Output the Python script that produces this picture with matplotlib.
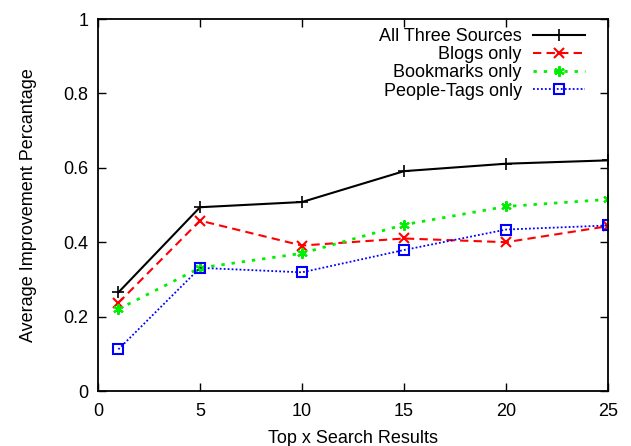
import matplotlib
matplotlib.use("Agg")
import matplotlib.pyplot as plt

plt.rcParams['font.family'] = ['Liberation Sans', 'DejaVu Sans']

x = [1, 5, 10, 15, 20, 25]
all_three = [0.265, 0.494, 0.508, 0.591, 0.611, 0.620]
blogs = [0.237, 0.458, 0.391, 0.410, 0.400, 0.443]
bookmarks = [0.220, 0.331, 0.370, 0.447, 0.496, 0.515]
people_tags = [0.112, 0.331, 0.319, 0.379, 0.434, 0.445]

labels = ["All Three Sources", "Blogs only", "Bookmarks only", "People-Tags only"]
xticks = [0, 5, 10, 15, 20, 25]
yticks = [0, 0.2, 0.4, 0.6, 0.8, 1]
ytick_labels = ["0", "0.2", "0.4", "0.6", "0.8", "1"]

FS = 13

fig = plt.figure(figsize=(6.31, 4.46), dpi=100)
ax = fig.add_axes([98/631, 55/446, 510/631, 372/446])

ax.plot(x, all_three, color='black', linestyle='-', linewidth=1.5, marker='+', markersize=8, markeredgewidth=1.2, label=labels[0])
ax.plot(x, blogs, color='red', linestyle=(0, (4, 2.5)), linewidth=1.5, marker='x', markersize=7, markeredgewidth=1.5, label=labels[1])
ax.plot(x, bookmarks, color='#00ee00', linestyle=(0, (1.2, 2.5)), linewidth=2, marker=(6, 2, 0), markersize=7.5, markeredgewidth=1.5, label=labels[2])
ax.plot(x, people_tags, color='blue', linestyle=(0, (1, 1.2)), linewidth=1.3, marker='s', markersize=6.5, fillstyle='none', markeredgewidth=1.5, label=labels[3])

ax.set_xlim(0, 25)
ax.set_ylim(0, 1)
ax.set_xticks(xticks)
ax.set_yticks(yticks)
ax.set_yticklabels(ytick_labels)
ax.tick_params(direction='in', top=True, right=True, length=6, width=1, labelsize=FS)
ax.tick_params(axis='x', pad=9)
ax.tick_params(axis='y', pad=7)
for s in ax.spines.values():
    s.set_linewidth(1.3)

ax.set_xlabel("Top x Search Results", fontsize=FS)
ax.set_ylabel("Average Improvement Percantage", fontsize=FS)
ax.xaxis.set_label_coords(0.5, -0.104)
ax.yaxis.set_label_coords(-0.119, 0.5)

ax.legend(loc='upper right', frameon=False, markerfirst=False, fontsize=FS,
          handlelength=2.9, labelspacing=0.06, borderpad=0, borderaxespad=0, handletextpad=0.6,
          bbox_to_anchor=(0.955, 0.975))

fig.savefig("out.png", dpi=100)
